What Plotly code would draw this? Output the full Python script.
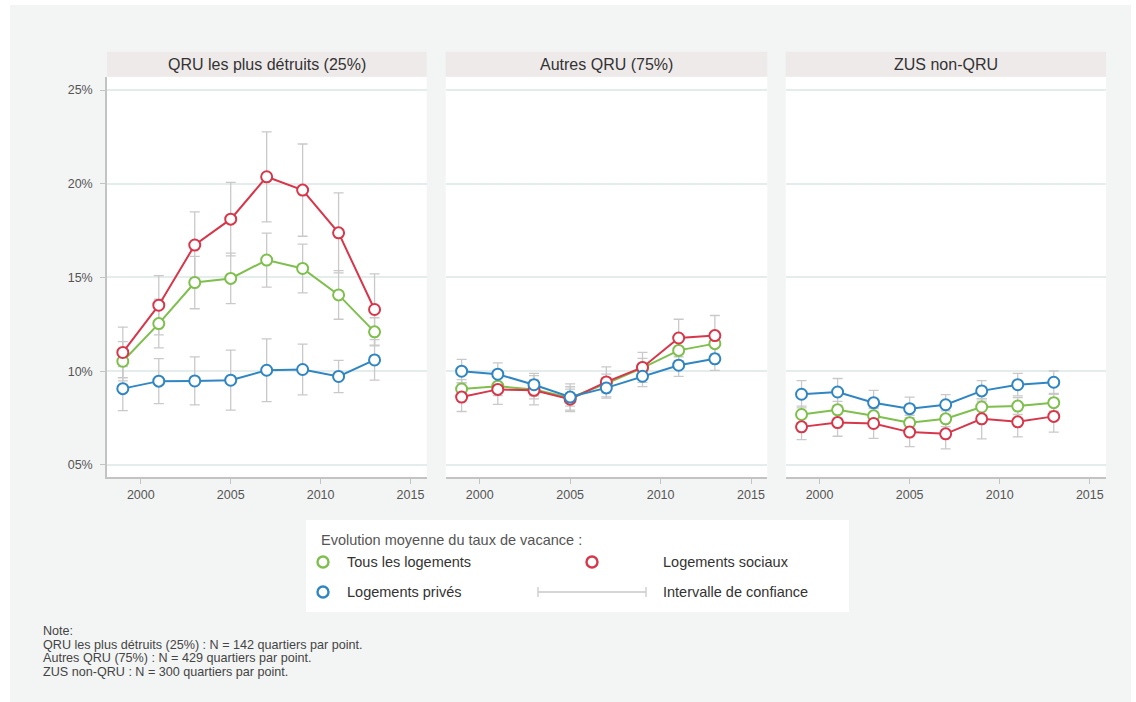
import plotly.graph_objects as go

W, H = 1136, 702

# ---------------- data ----------------
years = [1999, 2001, 2003, 2005, 2007, 2009, 2011, 2013]
panel_titles = ["QRU les plus détruits (25%)", "Autres QRU (75%)", "ZUS non-QRU"]
series_names = ["Tous les logements", "Logements sociaux", "Logements privés"]

# Panel 1 : QRU les plus détruits
p1_tous = [10.53, 12.54, 14.73, 14.95, 15.93, 15.48, 14.07, 12.10]
p1_soc = [11.00, 13.52, 16.73, 18.11, 20.37, 19.66, 17.38, 13.29]
p1_priv = [9.07, 9.47, 9.48, 9.52, 10.05, 10.09, 9.72, 10.60]
p1_tous_ci = [1.05, 1.30, 1.40, 1.35, 1.44, 1.30, 1.30, 0.75]
p1_soc_ci = [1.35, 1.58, 1.77, 1.96, 2.40, 2.46, 2.13, 1.90]
p1_priv_ci = [1.17, 1.20, 1.28, 1.60, 1.67, 1.35, 0.86, 1.08]

# Panel 2 : Autres QRU
p2_tous = [9.05, 9.20, 9.02, 8.59, 9.34, 10.18, 11.11, 11.47]
p2_soc = [8.62, 9.03, 8.98, 8.51, 9.43, 10.20, 11.77, 11.90]
p2_priv = [10.00, 9.84, 9.28, 8.62, 9.11, 9.73, 10.32, 10.66]
p2_tous_ci = [0.50, 0.50, 0.50, 0.45, 0.50, 0.50, 0.55, 0.55]
p2_soc_ci = [0.77, 0.80, 0.78, 0.66, 0.80, 0.80, 1.00, 1.07]
p2_priv_ci = [0.63, 0.60, 0.60, 0.70, 0.55, 0.55, 0.60, 0.62]

# Panel 3 : ZUS non-QRU
p3_tous = [7.69, 7.94, 7.62, 7.25, 7.46, 8.09, 8.14, 8.32]
p3_soc = [7.03, 7.26, 7.21, 6.75, 6.66, 7.46, 7.30, 7.59]
p3_priv = [8.77, 8.89, 8.32, 8.00, 8.21, 8.95, 9.28, 9.41]
p3_tous_ci = [0.45, 0.45, 0.42, 0.40, 0.42, 0.45, 0.45, 0.45]
p3_soc_ci = [0.68, 0.73, 0.79, 0.77, 0.80, 1.07, 0.80, 0.84]
p3_priv_ci = [0.73, 0.72, 0.66, 0.62, 0.54, 0.55, 0.60, 0.60]

x_ticks = [2000, 2005, 2010, 2015]
y_ticks = [5, 10, 15, 20, 25]
y_ticklabels = ["05%", "10%", "15%", "20%", "25%"]

legend_title = "Evolution moyenne du taux de vacance :"
ci_label = "Intervalle de confiance"
note_lines = [
    "Note:",
    "QRU les plus détruits (25%) : N = 142 quartiers par point.",
    "Autres QRU (75%) : N = 429 quartiers par point.",
    "ZUS non-QRU : N = 300 quartiers par point.",
]

# ---------------- style ----------------
FONT = "Liberation Sans, Arial, sans-serif"
C_GREEN = "#7fbf4d"
C_RED = "#d7374b"
C_BLUE = "#2f86c2"
C_ERR = "#c9c9c9"
C_GRID = "#e4ecec"
C_AXIS = "#c3c3c3"
C_BG = "#f3f4f4"
C_HEAD = "#eeeaea"

def px(x):
    return x / W

def py(y):
    return 1 - y / H

panels = [
    dict(x0=107, x1=426.7, tous=p1_tous, soc=p1_soc, priv=p1_priv,
         tous_ci=p1_tous_ci, soc_ci=p1_soc_ci, priv_ci=p1_priv_ci),
    dict(x0=445.7, x1=767.3, tous=p2_tous, soc=p2_soc, priv=p2_priv,
         tous_ci=p2_tous_ci, soc_ci=p2_soc_ci, priv_ci=p2_priv_ci),
    dict(x0=785.7, x1=1106, tous=p3_tous, soc=p3_soc, priv=p3_priv,
         tous_ci=p3_tous_ci, soc_ci=p3_soc_ci, priv_ci=p3_priv_ci),
]
PLOT_TOP, PLOT_BOT = 76.7, 477.3
HEAD_TOP = 51.7

fig = go.Figure()
layout_axes = {}
shapes = []
annotations = []

# white page border around the grey card
for (a, b, c, d) in [(0, W, 0, 5), (0, 10, 0, H), (1131, W, 0, H)]:
    shapes.append(dict(type="rect", xref="paper", yref="paper", x0=px(a), x1=px(b),
                       y0=py(d), y1=py(c), fillcolor="white", line_width=0, layer="below"))

for i, p in enumerate(panels):
    n = i + 1
    xa = "x" if n == 1 else f"x{n}"
    ya = "y" if n == 1 else f"y{n}"
    # error bars first (drawn below lines)
    for vals, ci in [(p["tous"], p["tous_ci"]), (p["soc"], p["soc_ci"]), (p["priv"], p["priv_ci"])]:
        fig.add_trace(go.Scatter(
            x=years, y=vals, mode="markers", xaxis=xa, yaxis=ya,
            marker=dict(size=1, color="rgba(0,0,0,0)"),
            error_y=dict(type="data", array=ci, visible=True, color=C_ERR,
                         thickness=1.3, width=5),
            showlegend=False, hoverinfo="skip"))
    for vals, col, name in [(p["tous"], C_GREEN, series_names[0]),
                            (p["soc"], C_RED, series_names[1]),
                            (p["priv"], C_BLUE, series_names[2])]:
        fig.add_trace(go.Scatter(
            x=years, y=vals, mode="lines+markers", xaxis=xa, yaxis=ya, name=name,
            line=dict(color=col, width=2),
            marker=dict(size=11, color="white", line=dict(color=col, width=2)),
            showlegend=False))

    xkey = "xaxis" if n == 1 else f"xaxis{n}"
    ykey = "yaxis" if n == 1 else f"yaxis{n}"
    layout_axes[xkey] = dict(
        domain=[px(p["x0"]), px(p["x1"])], anchor=ya,
        range=[1998.12, 2015.9], tickvals=x_ticks, ticks="outside", ticklen=5,
        tickcolor=C_AXIS, tickwidth=1, showgrid=False, zeroline=False,
        showline=True, linecolor=C_AXIS, linewidth=1.5,
        tickfont=dict(size=12.5, color="#555555", family=FONT))
    layout_axes[ykey] = dict(
        domain=[py(PLOT_BOT), py(PLOT_TOP)], anchor=xa,
        range=[4.34, 25.71], tickvals=y_ticks, ticktext=y_ticklabels,
        showgrid=True, gridcolor=C_GRID, gridwidth=1.5, zeroline=False,
        showline=(n == 1), linecolor=C_AXIS, linewidth=1.5,
        ticks="outside" if n == 1 else "", ticklen=5, tickcolor=C_AXIS,
        showticklabels=(n == 1), ticklabelstandoff=5,
        tickfont=dict(size=12.5, color="#555555", family=FONT))

    shapes.append(dict(type="rect", xref="paper", yref="paper",
                       x0=px(p["x0"]), x1=px(p["x1"]), y0=py(PLOT_TOP), y1=py(HEAD_TOP),
                       fillcolor=C_HEAD, line_width=0, layer="below"))
    annotations.append(dict(text=panel_titles[i], xref="paper", yref="paper",
                            x=px((p["x0"] + p["x1"]) / 2), y=py(64.5),
                            xanchor="center", yanchor="middle", showarrow=False,
                            font=dict(size=16, color="#333333", family=FONT)))

# ---------------- legend (drawn) ----------------
shapes.append(dict(type="rect", xref="paper", yref="paper", x0=px(306), x1=px(849),
                   y0=py(612), y1=py(520), fillcolor="white", line_width=0, layer="below"))

def circle(cx, cy, col):
    r = 5.5
    return dict(type="circle", xref="paper", yref="paper",
                x0=px(cx - r), x1=px(cx + r), y0=py(cy + r), y1=py(cy - r),
                line=dict(color=col, width=2.4), fillcolor="white")

shapes.append(circle(323, 562, C_GREEN))
shapes.append(circle(592, 562, C_RED))
shapes.append(circle(323, 592, C_BLUE))
shapes.append(dict(type="line", xref="paper", yref="paper", x0=px(538), x1=px(646),
                   y0=py(592), y1=py(592), line=dict(color=C_ERR, width=1.3)))
for xx in (538, 646):
    shapes.append(dict(type="line", xref="paper", yref="paper", x0=px(xx), x1=px(xx),
                       y0=py(597), y1=py(587), line=dict(color=C_ERR, width=1.3)))

def txt(s, x, y, size=14.5, color="#333333", xanchor="left"):
    return dict(text=s, xref="paper", yref="paper", x=px(x), y=py(y), xanchor=xanchor,
                yanchor="middle", showarrow=False, font=dict(size=size, color=color, family=FONT))

annotations.append(txt(legend_title, 319, 540, 14.5, "#555555"))
annotations.append(txt(series_names[0], 345, 562))
annotations.append(txt(series_names[1], 661, 562))
annotations.append(txt(series_names[2], 345, 592))
annotations.append(txt(ci_label, 661, 592))

for k, line in enumerate(note_lines):
    annotations.append(txt(line, 41, 631 + k * 13.7, 12.6, "#444444"))

fig.update_layout(
    width=W, height=H, margin=dict(l=0, r=0, t=0, b=0),
    paper_bgcolor=C_BG, plot_bgcolor="white",
    shapes=shapes, annotations=annotations, showlegend=False,
    font=dict(family=FONT), **layout_axes)

fig.write_html("out.html", config={"displayModeBar": False},
               post_script="document.body.style.margin='0';document.body.style.overflow='hidden';")
